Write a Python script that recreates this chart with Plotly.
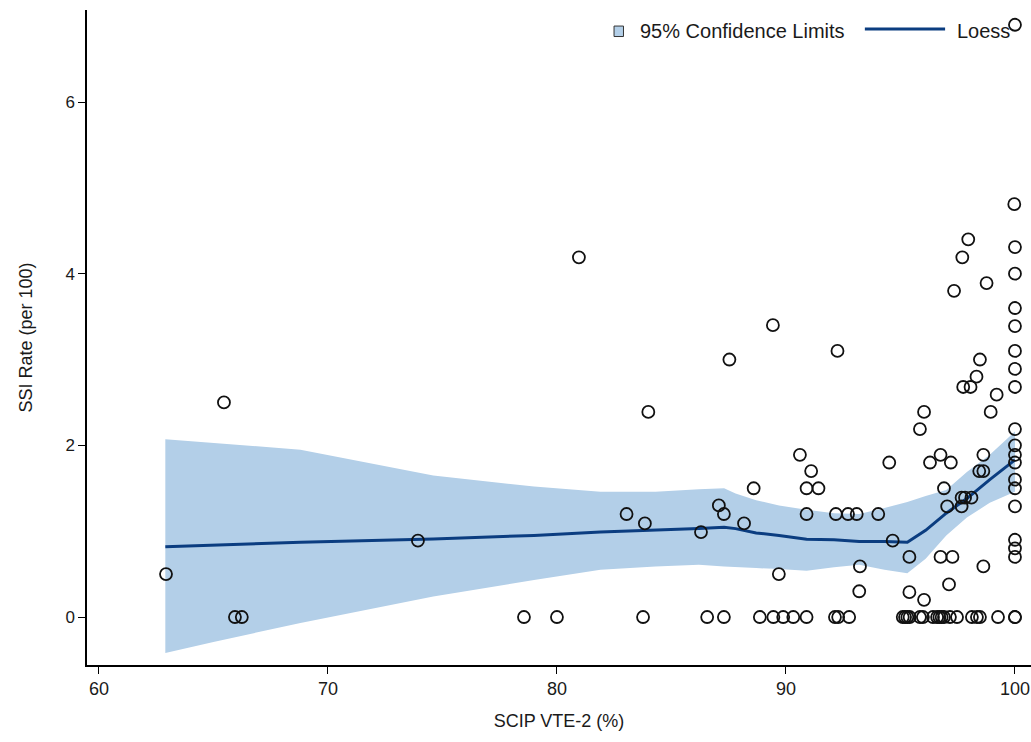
import plotly.graph_objects as go

# Observed points: SCIP VTE-2 (%) vs SSI rate (per 100)
pts_x = [62.93, 65.46, 65.94, 66.24, 73.93, 78.56, 80.0, 80.96, 83.04, 83.76,
         83.84, 83.99, 86.29, 86.56, 87.29, 87.07, 87.29, 87.53, 88.17, 88.59,
         88.86, 89.45, 89.88, 90.32, 90.9, 89.69, 89.43, 90.61, 91.1, 90.9,
         91.42, 90.9, 92.25, 92.18, 92.71, 93.09, 94.03, 92.14, 92.28, 92.76,
         93.23, 93.2, 94.51, 94.66, 95.39, 95.39, 96.03, 97.12, 96.75, 97.27,
         98.62, 100, 100, 100, 96.29, 96.75, 97.2, 98.62, 98.44, 98.62,
         96.9, 97.04, 97.67, 97.67, 97.82, 98.1, 100, 100, 100, 100,
         100, 100, 95.85, 100, 96.03, 98.94, 99.2, 97.74, 98.06, 100,
         98.32, 98.47, 100, 100, 100, 100, 97.34, 98.76, 100, 97.7,
         100, 97.96, 99.97, 100,
         95.1, 95.2, 95.3, 95.4, 95.85, 95.98, 96.42, 96.6, 96.7, 96.8,
         96.9, 97.16, 97.47, 98.12, 98.34, 98.47, 99.26, 100, 100]
pts_y = [0.50, 2.50, 0, 0, 0.89, 0, 0, 4.19, 1.20, 0,
         1.09, 2.39, 0.99, 0, 0, 1.30, 1.20, 3.0, 1.09, 1.50,
         0, 0, 0, 0, 0, 0.50, 3.40, 1.89, 1.70, 1.50,
         1.50, 1.20, 3.10, 1.20, 1.20, 1.20, 1.20, 0, 0, 0,
         0.59, 0.30, 1.80, 0.89, 0.70, 0.29, 0.20, 0.38, 0.70, 0.70,
         0.59, 0.9, 0.8, 0.7, 1.80, 1.89, 1.80, 1.89, 1.70, 1.70,
         1.50, 1.29, 1.29, 1.39, 1.39, 1.39, 2.0, 1.89, 1.8, 1.6,
         1.5, 1.29, 2.19, 2.19, 2.39, 2.39, 2.59, 2.68, 2.68, 2.68,
         2.80, 3.0, 2.89, 3.10, 3.39, 3.60, 3.80, 3.89, 4.0, 4.19,
         4.31, 4.40, 4.81, 6.90,
         0, 0, 0, 0, 0, 0, 0, 0, 0, 0,
         0, 0, 0, 0, 0, 0, 0, 0, 0]

# Loess fit and 95% confidence limits
fit_x = [62.9, 65.0, 68.8, 74.6, 79.0, 81.9, 84.3, 86.2, 87.3, 87.8, 88.7,
         89.7, 90.9, 92.1, 93.2, 94.3, 95.3, 96.1, 97.0, 97.9, 98.9, 100.0]
loess_y = [0.82, 0.84, 0.87, 0.91, 0.95, 0.99, 1.01, 1.03, 1.045, 1.03, 0.98,
           0.95, 0.905, 0.90, 0.88, 0.88, 0.87, 1.01, 1.21, 1.38, 1.60, 1.83]
upper_y = [2.07, 2.03, 1.95, 1.65, 1.52, 1.46, 1.46, 1.49, 1.50, 1.44, 1.36,
           1.30, 1.25, 1.21, 1.20, 1.27, 1.34, 1.41, 1.48, 1.69, 1.89, 2.16]
lower_y = [-0.42, -0.29, -0.07, 0.24, 0.43, 0.55, 0.59, 0.61, 0.59, 0.58, 0.57,
           0.56, 0.54, 0.58, 0.61, 0.55, 0.51, 0.68, 0.95, 1.16, 1.33, 1.46]

x_ticks = [60, 70, 80, 90, 100]
y_ticks = [0, 2, 4, 6]
legend_labels = ["95% Confidence Limits", "Loess"]

BAND = "#b3cfe8"
LINE = "#0b3d80"
FONT = "Liberation Sans, Arial, sans-serif"
NARROW = "Liberation Sans Narrow, Liberation Sans, Arial, sans-serif"

fig = go.Figure()
fig.add_trace(go.Scatter(x=fit_x, y=lower_y, mode="lines", line=dict(width=0, color=BAND),
                         showlegend=False, hoverinfo="skip"))
fig.add_trace(go.Scatter(x=fit_x, y=upper_y, mode="lines", line=dict(width=0, color=BAND),
                         fill="tonexty", fillcolor=BAND, name=legend_labels[0],
                         showlegend=False))
fig.add_trace(go.Scatter(x=fit_x, y=loess_y, mode="lines", name=legend_labels[1],
                         line=dict(color=LINE, width=3), showlegend=False))
fig.add_trace(go.Scatter(x=pts_x, y=pts_y, mode="markers", showlegend=False,
                         marker=dict(symbol="circle-open", size=12, color="#111111",
                                     line=dict(width=1.8))))

# Legend drawn in the top-right corner (paper coordinates)
fig.add_shape(type="rect", xref="paper", yref="paper",
              x0=0.5583, x1=0.5683, y0=0.9595, y1=0.9755,
              fillcolor=BAND, line=dict(color="#333333", width=1))
fig.add_annotation(xref="paper", yref="paper", x=0.5835, y=0.968,
                   text=legend_labels[0], showarrow=False, xanchor="left", yanchor="middle",
                   font=dict(family=FONT, size=20, color="#1a1a1a"))
fig.add_shape(type="line", xref="paper", yref="paper",
              x0=0.824, x1=0.909, y0=0.971, y1=0.971,
              line=dict(color=LINE, width=3))
fig.add_annotation(xref="paper", yref="paper", x=0.9195, y=0.968,
                   text=legend_labels[1], showarrow=False, xanchor="left", yanchor="middle",
                   font=dict(family=FONT, size=20, color="#1a1a1a"))

fig.update_layout(
    width=1031, height=742,
    margin=dict(l=87, r=0, t=10, b=77),
    paper_bgcolor="white", plot_bgcolor="white",
    font=dict(family=FONT, size=17, color="#1a1a1a"),
    showlegend=False,
    xaxis=dict(range=[59.48, 100.70], tickvals=x_ticks, ticks="outside", ticklen=7,
               tickcolor="#000", showline=True, linecolor="#000", linewidth=1.5,
               showgrid=False, zeroline=False,
               tickfont=dict(family=NARROW, size=18),
               title=dict(text="SCIP VTE-2 (%)", font=dict(family=NARROW, size=18), standoff=16)),
    yaxis=dict(range=[-0.559, 7.072], tickvals=y_ticks, ticks="outside", ticklen=7,
               tickcolor="#000", showline=True, linecolor="#000", linewidth=1.5,
               showgrid=False, zeroline=False,
               tickfont=dict(family=FONT, size=17),
               title=dict(text="SSI Rate (per 100)", font=dict(family=NARROW, size=18), standoff=28)),
)

fig.write_html("out.html")
